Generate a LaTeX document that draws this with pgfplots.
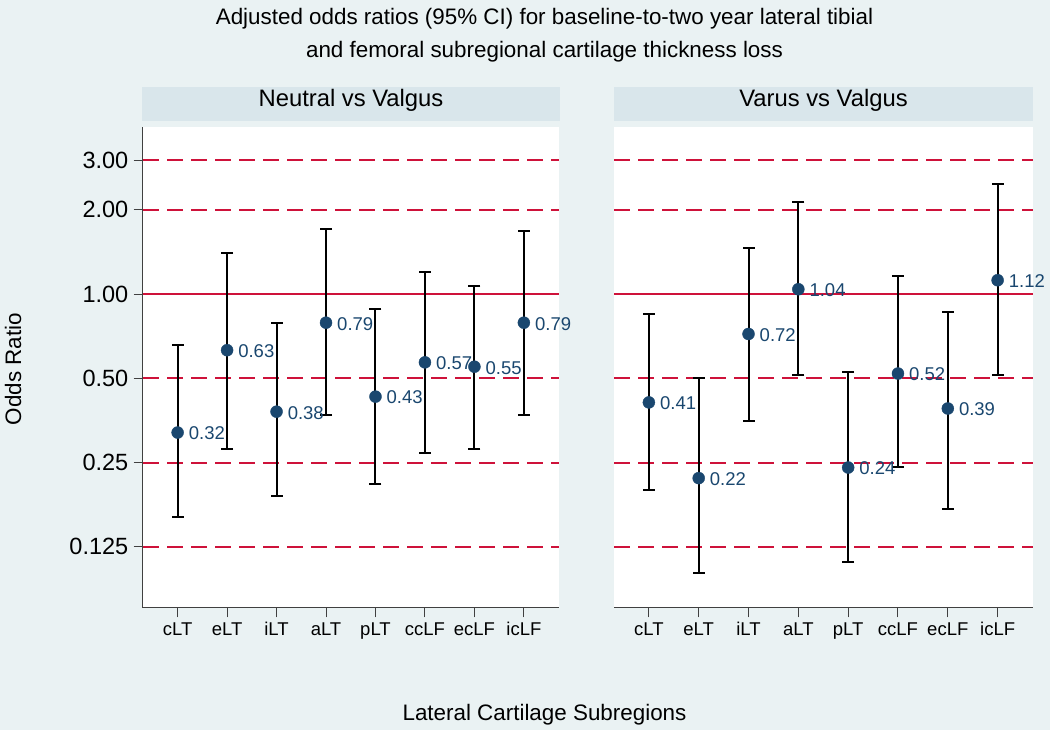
\documentclass[border=0pt]{standalone}
\usepackage{pgfplots}
\pgfplotsset{compat=1.18}
\usepackage{fontspec}
\setmainfont{Liberation Sans}

\definecolor{bg}{RGB}{234,242,243}
\definecolor{strip}{RGB}{217,230,235}
\definecolor{refred}{RGB}{206,18,58}
\definecolor{navy}{RGB}{26,71,111}

\newcommand{\fs}[1]{\fontsize{#1}{#1}\selectfont}

\tikzset{
  orrefdash/.style={refred, line width=2pt, dash pattern=on 16pt off 8pt},
  orrefsolid/.style={refred, line width=2pt},
}

\begin{document}
\begin{tikzpicture}
  \useasboundingbox (0,0) rectangle (1050pt,730pt);
  \fill[bg] (0,0) rectangle (1050pt,730pt);

  % Neutral vs Valgus
  \begin{axis}[at={(143pt,122pt)}, anchor=south west,
      scale only axis, width=416pt, height=481pt,
      ymode=log, log basis y=2, ymin=0.0756, ymax=3.95,
      xmin=-0.70, xmax=7.71,
      axis background/.style={fill=white},
      xtick={0,1,2,3,4,5,6,7},
      xticklabels={cLT,eLT,iLT,aLT,pLT,ccLF,ecLF,icLF},
      tick align=outside, major tick length=9.5pt,
      tick style={black!75, line width=1pt},
      axis line style={black!75, line width=1pt},
      xticklabel style={font=\fs{18.5}, inner sep=0pt, text height=0.72em, yshift=-10.5pt},
      yminorticks=false,
      title={Neutral vs Valgus},
      title style={at={(0.5,1)}, anchor=south, yshift=0pt, fill=strip,
        minimum height=34pt, minimum width=417pt, inner sep=0pt, font=\fs{23.8},
        text height=0.73em, text depth=0.21em},
      axis x line*=bottom, axis y line*=left,
      ytick={0.125,0.25,0.5,1,2,3},
      yticklabels={0.125,0.25,0.50,1.00,2.00,3.00},
      yticklabel style={font=\fs{23.5}, inner sep=0pt, xshift=-5pt}]
    \addplot[orrefdash] coordinates {(-0.70,3) (7.71,3)};
    \addplot[orrefdash] coordinates {(-0.70,2) (7.71,2)};
    \addplot[orrefdash] coordinates {(-0.70,0.5) (7.71,0.5)};
    \addplot[orrefdash] coordinates {(-0.70,0.25) (7.71,0.25)};
    \addplot[orrefdash] coordinates {(-0.70,0.125) (7.71,0.125)};
    \addplot[orrefsolid] coordinates {(-0.70,1) (7.71,1)};
    \addplot[black, line width=2pt, mark=-, mark size=6pt,
        unbounded coords=jump, mark options={solid}] coordinates {
      (0,0.160) (0,0.657) (0,nan)
      (1,0.280) (1,1.40)  (1,nan)
      (2,0.190) (2,0.79)  (2,nan)
      (3,0.371) (3,1.70)  (3,nan)
      (4,0.210) (4,0.886) (4,nan)
      (5,0.271) (5,1.20)  (5,nan)
      (6,0.280) (6,1.065) (6,nan)
      (7,0.371) (7,1.68)
    };
    \addplot[only marks, mark=*, mark size=6pt, color=navy,
        mark options={fill=navy, draw=navy},
        point meta=explicit symbolic, nodes near coords,
        nodes near coords style={anchor=west, xshift=11pt, yshift=-1pt,
          inner sep=0pt, font=\fs{18.5}, text=navy}] coordinates {
      (0,0.32)[0.32] (1,0.63)[0.63] (2,0.38)[0.38] (3,0.79)[0.79]
      (4,0.43)[0.43] (5,0.57)[0.57] (6,0.55)[0.55] (7,0.79)[0.79]
    };
  \end{axis}

  % Varus vs Valgus
  \begin{axis}[at={(614pt,122pt)}, anchor=south west,
      scale only axis, width=419pt, height=481pt,
      ymode=log, log basis y=2, ymin=0.0756, ymax=3.95,
      xmin=-0.70, xmax=7.71,
      axis background/.style={fill=white},
      xtick={0,1,2,3,4,5,6,7},
      xticklabels={cLT,eLT,iLT,aLT,pLT,ccLF,ecLF,icLF},
      tick align=outside, major tick length=9.5pt,
      tick style={black!75, line width=1pt},
      axis line style={black!75, line width=1pt},
      xticklabel style={font=\fs{18.5}, inner sep=0pt, text height=0.72em, yshift=-10.5pt},
      yminorticks=false,
      title={Varus vs Valgus},
      title style={at={(0.5,1)}, anchor=south, yshift=0pt, fill=strip,
        minimum height=34pt, minimum width=419pt, inner sep=0pt, font=\fs{23.8},
        text height=0.73em, text depth=0.21em},
      axis x line*=bottom, axis y line=none]
    \addplot[orrefdash] coordinates {(-0.70,3) (7.71,3)};
    \addplot[orrefdash] coordinates {(-0.70,2) (7.71,2)};
    \addplot[orrefdash] coordinates {(-0.70,0.5) (7.71,0.5)};
    \addplot[orrefdash] coordinates {(-0.70,0.25) (7.71,0.25)};
    \addplot[orrefdash] coordinates {(-0.70,0.125) (7.71,0.125)};
    \addplot[orrefsolid] coordinates {(-0.70,1) (7.71,1)};
    \addplot[black, line width=2pt, mark=-, mark size=6pt,
        unbounded coords=jump, mark options={solid}] coordinates {
      (0,0.200) (0,0.848) (0,nan)
      (1,0.101) (1,0.50)  (1,nan)
      (2,0.352) (2,1.456) (2,nan)
      (3,0.514) (3,2.125) (3,nan)
      (4,0.110) (4,0.528) (4,nan)
      (5,0.241) (5,1.16)  (5,nan)
      (6,0.170) (6,0.86)  (6,nan)
      (7,0.514) (7,2.47)
    };
    \addplot[only marks, mark=*, mark size=6pt, color=navy,
        mark options={fill=navy, draw=navy},
        point meta=explicit symbolic, nodes near coords,
        nodes near coords style={anchor=west, xshift=11pt, yshift=-1pt,
          inner sep=0pt, font=\fs{18.5}, text=navy}] coordinates {
      (0,0.41)[0.41] (1,0.22)[0.22] (2,0.72)[0.72] (3,1.04)[1.04]
      (4,0.24)[0.24] (5,0.52)[0.52] (6,0.39)[0.39] (7,1.12)[1.12]
    };
  \end{axis}

  % titles
  \node[anchor=base, font=\fs{22.4}] at (544.5pt,705pt)
    {Adjusted odds ratios (95\% CI) for baseline-to-two year lateral tibial};
  \node[anchor=base, font=\fs{22.4}] at (544.5pt,672pt)
    {and femoral subregional cartilage thickness loss};
  \node[anchor=base, font=\fs{22.4}] at (544.5pt,9pt) {Lateral Cartilage Subregions};
  \node[anchor=base, rotate=90, font=\fs{22.4}] at (21pt,361pt) {Odds Ratio};
\end{tikzpicture}
\end{document}
